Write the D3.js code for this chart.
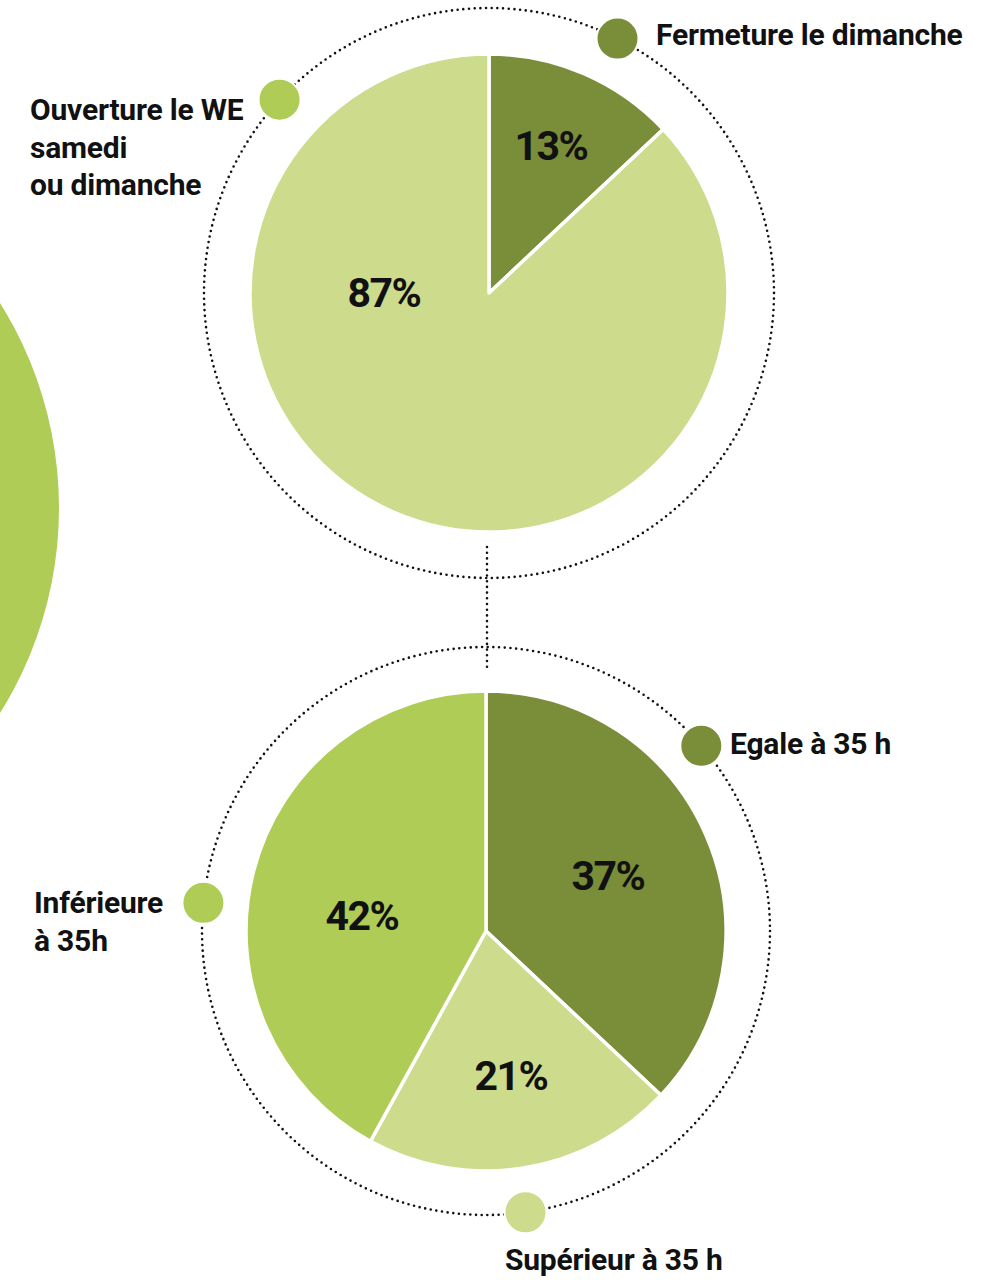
<!DOCTYPE html>
<html><head><meta charset="utf-8">
<script src="https://cdn.jsdelivr.net/npm/d3@7"></script>
<style>
html,body{margin:0;padding:0;background:#fff;}
svg{display:block;}
text{font-family:Roboto,"Open Sans",sans-serif;font-weight:700;fill:#111;}
</style></head>
<body>
<svg id="chart" width="999" height="1282"></svg>
<script>
// ---- data ----
const topCategories = ["Fermeture le dimanche", "Ouverture le WE samedi ou dimanche"];
const topValues = [13, 87];
const bottomCategories = ["Egale à 35 h", "Supérieur à 35 h", "Inférieure à 35h"];
const bottomValues = [37, 21, 42];
const topLegendLines = [["Fermeture le dimanche"], ["Ouverture le WE", "samedi", "ou dimanche"]];
const bottomLegendLines = [["Egale à 35 h"], ["Supérieur à 35 h"], ["Inférieure", "à 35h"]];
const topColors = ["#7a8d39", "#ccdc8c"];
const topDotColors = ["#7a8d39", "#afcc56"];
const bottomColors = ["#7a8d39", "#ccdc8c", "#afcc56"];
const bottomDotColors = ["#7a8d39", "#ccdc8c", "#afcc56"];

const svg = d3.select("#chart");
const fmt = v => v + "%";

// decorative big circle on the left
svg.append("circle").attr("cx", -327).attr("cy", 508).attr("r", 386).attr("fill", "#afcc56");

// connecting dotted line
svg.append("line").attr("x1", 487).attr("x2", 487).attr("y1", 547).attr("y2", 670)
  .attr("stroke", "#111").attr("stroke-width", 2.6).attr("stroke-linecap", "round")
  .attr("stroke-dasharray", "0 5.7");

function drawPie(cfg) {
  const g = svg.append("g").attr("transform", `translate(${cfg.cx},${cfg.cy})`);
  g.append("circle").attr("r", cfg.ring).attr("fill", "none").attr("stroke", "#111")
    .attr("stroke-width", 2.6).attr("stroke-linecap", "round").attr("stroke-dasharray", "0 5.7");
  const pie = d3.pie().sort(null).value(d => d);
  const arcs = pie(cfg.values);
  const arc = d3.arc().innerRadius(0).outerRadius(cfg.r);
  g.selectAll("path.slice").data(arcs).join("path").attr("class", "slice")
    .attr("d", arc).attr("fill", (d, i) => cfg.colors[i])
    .attr("stroke", "#fff").attr("stroke-width", 3.5).attr("stroke-linejoin", "round");
  g.selectAll("text.pct").data(arcs).join("text").attr("class", "pct")
    .attr("x", (d, i) => cfg.labelPos[i][0]).attr("y", (d, i) => cfg.labelPos[i][1])
    .attr("text-anchor", "middle").attr("dominant-baseline", "central")
    .attr("font-size", 41).style("letter-spacing", "-1.5px")
    .text(d => fmt(d.data));
  const legend = g.selectAll("g.leg").data(cfg.legend).join("g").attr("class", "leg");
  legend.append("circle")
    .attr("cx", d => cfg.ring * Math.sin(d.angle * Math.PI / 180))
    .attr("cy", d => -cfg.ring * Math.cos(d.angle * Math.PI / 180))
    .attr("r", 21).attr("fill", (d, i) => cfg.dotColors[i]).attr("stroke", "#fff").attr("stroke-width", 2);
  legend.append("text")
    .attr("font-size", 30).style("letter-spacing", "-0.2px")
    .attr("text-anchor", "start")
    .each(function (d, i) {
      d3.select(this).selectAll("tspan").data(cfg.lines[i]).join("tspan")
        .attr("x", d.tx - cfg.cx).attr("y", (t, j) => d.ty - cfg.cy + j * 37.5).text(t => t);
    });
}

drawPie({
  cx: 489, cy: 293, r: 239, ring: 285,
  values: topValues, colors: topColors, dotColors: topDotColors, lines: topLegendLines,
  labelPos: [[62, -147], [-105, 0]],
  legend: [
    { angle: 26.8, tx: 656, ty: 45 },
    { angle: -47.3, tx: 30, ty: 120 }
  ]
});

drawPie({
  cx: 486, cy: 931, r: 240, ring: 284,
  values: bottomValues, colors: bottomColors, dotColors: bottomDotColors, lines: bottomLegendLines,
  labelPos: [[122, -55], [25, 145], [-124, -15]],
  legend: [
    { angle: 49.3, tx: 730, ty: 754 },
    { angle: 172, tx: 505, ty: 1270 },
    { angle: 275.7, tx: 34, ty: 913 }
  ]
});
</script>
</body></html>
